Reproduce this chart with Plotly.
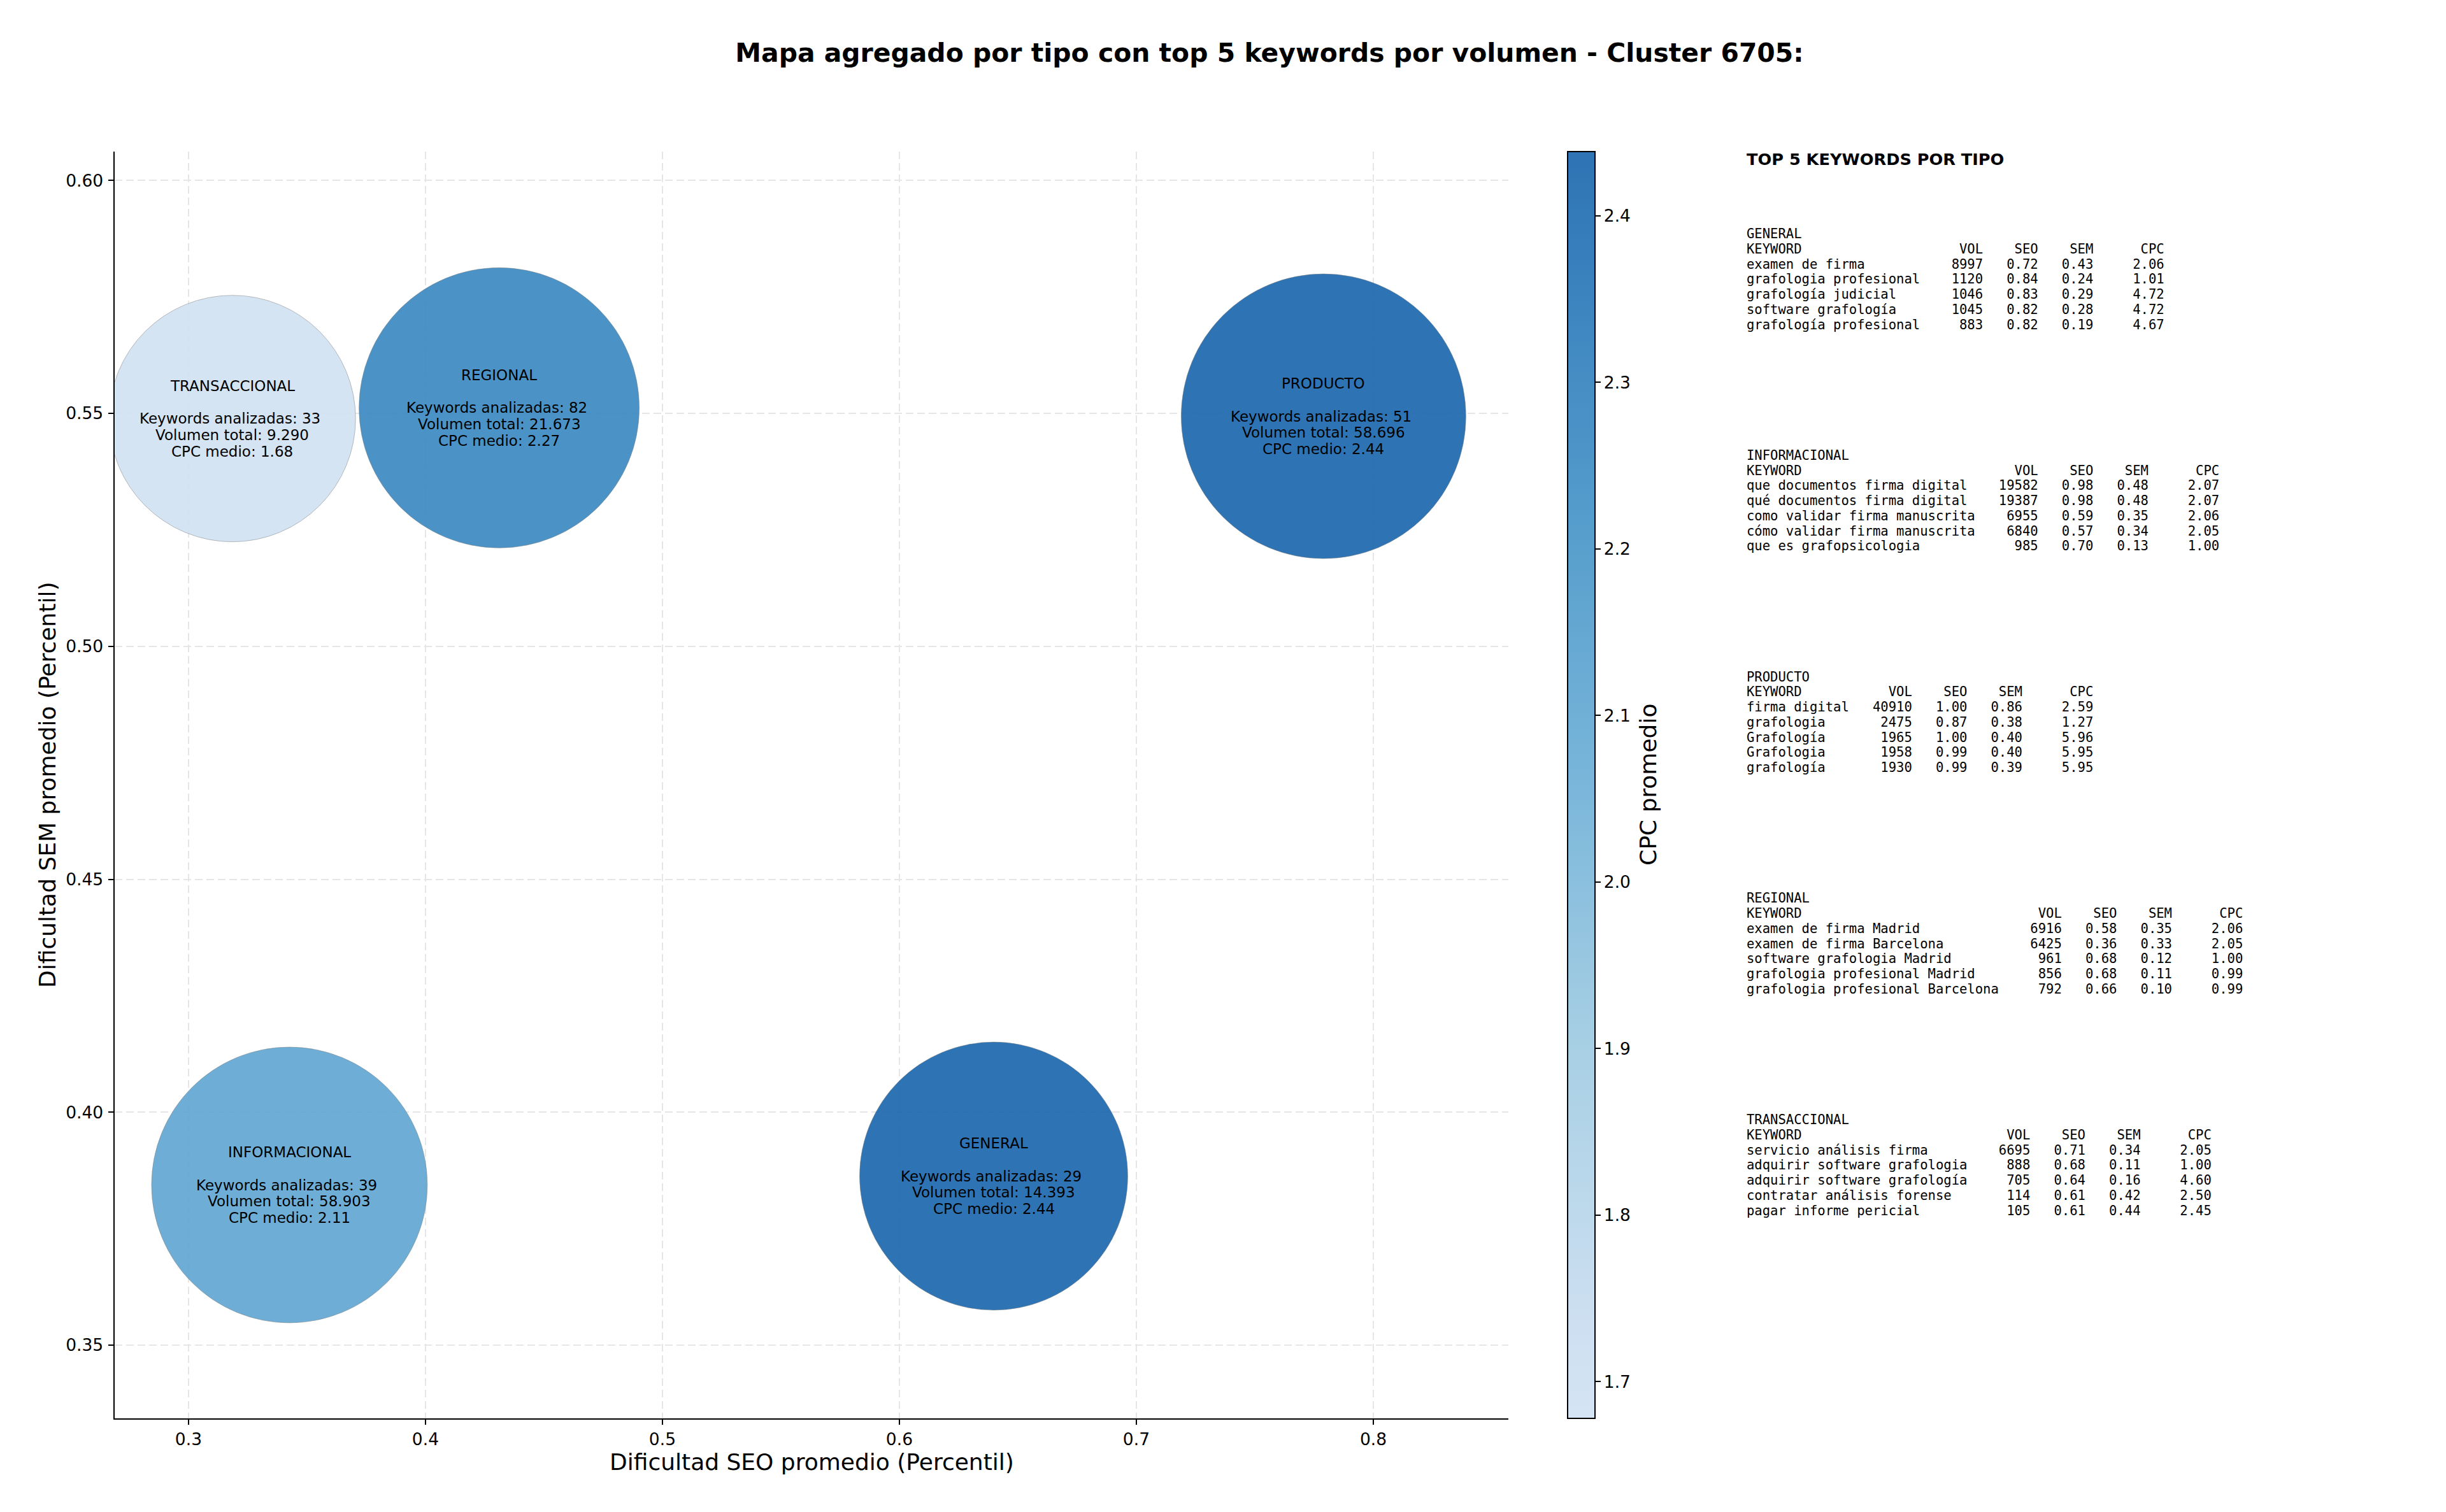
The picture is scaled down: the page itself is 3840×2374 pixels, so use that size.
import plotly.graph_objects as go

W = 3840
H = 2374

# Bubble data
tipos = ['GENERAL', 'INFORMACIONAL', 'PRODUCTO', 'REGIONAL', 'TRANSACCIONAL']
seo_medio = [0.6398, 0.3426, 0.779, 0.4311, 0.3185]
sem_medio = [0.3863, 0.3844, 0.5494, 0.5512, 0.5489]
cpc_medio = [2.44, 2.11, 2.44, 2.27, 1.68]
n_keywords = [29, 39, 51, 82, 33]
vol_total = [14393, 58903, 58696, 21673, 9290]

# Top 5 tables
general_kw = ['examen de firma', 'grafologia profesional', 'grafología judicial', 'software grafología', 'grafología profesional']
general_vol = [8997, 1120, 1046, 1045, 883]
general_seo = [0.72, 0.84, 0.83, 0.82, 0.82]
general_sem = [0.43, 0.24, 0.29, 0.28, 0.19]
general_cpc = [2.06, 1.01, 4.72, 4.72, 4.67]

informacional_kw = ['que documentos firma digital', 'qué documentos firma digital', 'como validar firma manuscrita', 'cómo validar firma manuscrita', 'que es grafopsicologia']
informacional_vol = [19582, 19387, 6955, 6840, 985]
informacional_seo = [0.98, 0.98, 0.59, 0.57, 0.70]
informacional_sem = [0.48, 0.48, 0.35, 0.34, 0.13]
informacional_cpc = [2.07, 2.07, 2.06, 2.05, 1.00]

producto_kw = ['firma digital', 'grafologia', 'Grafología', 'Grafologia', 'grafología']
producto_vol = [40910, 2475, 1965, 1958, 1930]
producto_seo = [1.00, 0.87, 1.00, 0.99, 0.99]
producto_sem = [0.86, 0.38, 0.40, 0.40, 0.39]
producto_cpc = [2.59, 1.27, 5.96, 5.95, 5.95]

regional_kw = ['examen de firma Madrid', 'examen de firma Barcelona', 'software grafologia Madrid', 'grafologia profesional Madrid', 'grafologia profesional Barcelona']
regional_vol = [6916, 6425, 961, 856, 792]
regional_seo = [0.58, 0.36, 0.68, 0.68, 0.66]
regional_sem = [0.35, 0.33, 0.12, 0.11, 0.10]
regional_cpc = [2.06, 2.05, 1.00, 0.99, 0.99]

transaccional_kw = ['servicio análisis firma', 'adquirir software grafologia', 'adquirir software grafología', 'contratar análisis forense', 'pagar informe pericial']
transaccional_vol = [6695, 888, 705, 114, 105]
transaccional_seo = [0.71, 0.68, 0.64, 0.61, 0.61]
transaccional_sem = [0.34, 0.11, 0.16, 0.42, 0.44]
transaccional_cpc = [2.05, 1.00, 4.60, 2.50, 2.45]

tablas = [
    ('GENERAL', general_kw, general_vol, general_seo, general_sem, general_cpc),
    ('INFORMACIONAL', informacional_kw, informacional_vol, informacional_seo, informacional_sem, informacional_cpc),
    ('PRODUCTO', producto_kw, producto_vol, producto_seo, producto_sem, producto_cpc),
    ('REGIONAL', regional_kw, regional_vol, regional_seo, regional_sem, regional_cpc),
    ('TRANSACCIONAL', transaccional_kw, transaccional_vol, transaccional_seo, transaccional_sem, transaccional_cpc),
]

# Marker diameters in pixels
diametros = [421, 433, 447, 440, 387]

# Truncated Blues at alpha 0.9
blues = [
    [0.0, 'rgba(208,225,242,0.9)'],
    [0.083, 'rgba(198,219,239,0.9)'],
    [0.292, 'rgba(158,202,225,0.9)'],
    [0.5, 'rgba(107,174,214,0.9)'],
    [0.708, 'rgba(66,146,198,0.9)'],
    [0.917, 'rgba(33,113,181,0.9)'],
    [1.0, 'rgba(23,100,171,0.9)'],
]

SANS = 'DejaVu Sans'
MONO = 'DejaVu Sans Mono'


def fx(px):
    return px / W


def fy(px):
    return 1 - px / H


fig = go.Figure(go.Scatter(
    x=seo_medio,
    y=sem_medio,
    mode='markers',
    hoverinfo='skip',
    marker=dict(
        size=diametros,
        sizemode='diameter',
        color=cpc_medio,
        colorscale=blues,
        cmin=1.678,
        cmax=2.4386,
        opacity=1,
        line=dict(color='rgba(128,128,128,0.5)', width=1),
        colorbar=dict(
            x=fx(2460.7),
            xanchor='left',
            xpad=0,
            y=fy(2227),
            yanchor='bottom',
            ypad=0,
            len=(2227 - 238) / H,
            lenmode='fraction',
            thickness=43,
            thicknessmode='pixels',
            outlinecolor='black',
            outlinewidth=2,
            tick0=1.7,
            dtick=0.1,
            tickformat='.1f',
            ticks='outside',
            ticklen=8,
            tickwidth=2,
            tickcolor='black',
            tickfont=dict(family=SANS, size=26.5, color='black'),
        ),
    ),
))

annotations = []

# Labels on the bubbles, one annotation per line to hold the line spacing
for i, tipo in enumerate(tipos):
    lineas = [
        (tipo, -51.5, 0),
        (f'Keywords analizadas: {n_keywords[i]}', 0, -4),
        ('Volumen total: ' + f'{vol_total[i]:,}'.replace(',', '.'), 25.75, 0),
        (f'CPC medio: {cpc_medio[i]:.2f}', 51.5, 0),
    ]
    for texto, dy, dx in lineas:
        annotations.append(dict(
            x=seo_medio[i], y=sem_medio[i], xref='x', yref='y',
            text=texto, showarrow=False, xanchor='center', yanchor='middle',
            yshift=-dy, xshift=dx, borderpad=0, borderwidth=0,
            font=dict(family=SANS, size=23, color='black'),
        ))

# Right hand tables, also per line
annotations.append(dict(
    x=fx(2742), y=fy(250), xref='paper', yref='paper',
    text='<b>TOP 5 KEYWORDS POR TIPO</b>', showarrow=False,
    xanchor='left', yanchor='middle', borderpad=0, borderwidth=0,
    font=dict(family=SANS, size=25.6, color='black'),
))

for n, (nombre, kw, vol, seo, sem, cpc) in enumerate(tablas):
    ancho = max(len(k) for k in kw)
    filas = [nombre, f"{'KEYWORD':<{ancho}}{'VOL':>8}{'SEO':>7}{'SEM':>7}{'CPC':>9}"]
    for j in range(len(kw)):
        filas.append(f'{kw[j]:<{ancho}}{vol[j]:>8}{seo[j]:>7.2f}{sem[j]:>7.2f}{cpc[j]:>9.2f}')
    for j, fila in enumerate(filas):
        annotations.append(dict(
            x=fx(2742), y=fy(367 + 347.8 * n + 23.75 * j), xref='paper', yref='paper',
            text=fila.replace(' ', '\u00a0'), showarrow=False,
            xanchor='left', yanchor='middle', align='left', borderpad=0, borderwidth=0,
            font=dict(family=MONO, size=20.55, color='black'),
        ))

# Colorbar title reads bottom to top in the original
annotations.append(dict(
    x=fx(2588), y=fy(1232), xref='paper', yref='paper',
    text='CPC promedio', textangle=-90, showarrow=False,
    xanchor='center', yanchor='middle', borderpad=0, borderwidth=0,
    font=dict(family=SANS, size=36, color='black'),
))

annotations.append(dict(
    x=fx(1274), y=fy(2295), xref='paper', yref='paper',
    text='Dificultad SEO promedio (Percentil)', showarrow=False,
    xanchor='center', yanchor='middle', borderpad=0, borderwidth=0,
    font=dict(family=SANS, size=36, color='black'),
))
annotations.append(dict(
    x=fx(75), y=fy(1232), xref='paper', yref='paper',
    text='Dificultad SEM promedio (Percentil)', textangle=-90, showarrow=False,
    xanchor='center', yanchor='middle', borderpad=0, borderwidth=0,
    font=dict(family=SANS, size=36, color='black'),
))

axis_style = dict(
    showline=True,
    linecolor='black',
    linewidth=2,
    mirror=False,
    ticks='outside',
    ticklen=8,
    tickwidth=2,
    tickcolor='black',
    tickfont=dict(family=SANS, size=26.5, color='black'),
    showgrid=True,
    gridcolor='#e6e6e6',
    gridwidth=2,
    griddash='12px,6px',
    zeroline=False,
    layer='above traces',
)

fig.update_layout(
    width=W,
    height=H,
    autosize=False,
    margin=dict(l=0, r=0, t=0, b=0),
    paper_bgcolor='white',
    plot_bgcolor='white',
    showlegend=False,
    title=dict(
        text='<b>Mapa agregado por tipo con top 5 keywords por volumen - Cluster 6705:</b>',
        x=fx(1993), xanchor='center', xref='paper',
        y=fy(83), yanchor='middle', yref='container',
        font=dict(family=SANS, size=40.9, color='black'),
    ),
    xaxis=dict(
        domain=[fx(179.5), fx(2368)],
        range=[0.2687, 0.857],
        tickvals=[0.3, 0.4, 0.5, 0.6, 0.7, 0.8],
        ticktext=['0.3', '0.4', '0.5', '0.6', '0.7', '0.8'],
        **axis_style,
    ),
    yaxis=dict(
        domain=[fy(2227), fy(238)],
        range=[0.3343, 0.6062],
        tickvals=[0.35, 0.40, 0.45, 0.50, 0.55, 0.60],
        ticktext=['0.35', '0.40', '0.45', '0.50', '0.55', '0.60'],
        ticklabelstandoff=2,
        **axis_style,
    ),
    annotations=annotations,
)

fig.write_html('out.html', config={'displayModeBar': False}, post_script="document.body.style.margin='0';")
